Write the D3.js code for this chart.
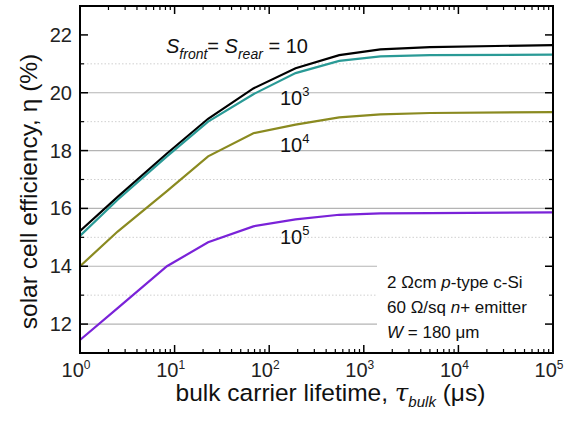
<!DOCTYPE html>
<html>
<head>
<meta charset="utf-8">
<script src="https://cdn.jsdelivr.net/npm/d3@7"></script>
<style>
  body { margin: 0; background: #fff; }
  text { font-family: "Liberation Sans", Arial, sans-serif; }
</style>
</head>
<body>
<script>
// lifetime points (us) where the curves were sampled
var tau = [1, 2.5, 8.3, 22.6, 68, 190, 550, 1500, 5000, 100000];

// efficiency (%) per surface recombination velocity
var effS10  = [15.22, 16.4, 17.9, 19.1, 20.15, 20.85, 21.3, 21.5, 21.58, 21.65];
var effS1e3 = [15.05, 16.3, 17.8, 19.0, 19.95, 20.68, 21.1, 21.26, 21.3, 21.32];
var effS1e4 = [14.0, 15.2, 16.6, 17.8, 18.6, 18.9, 19.15, 19.25, 19.3, 19.33];
var effS1e5 = [11.45, 12.55, 14.0, 14.83, 15.38, 15.62, 15.78, 15.83, 15.84, 15.86];

var yTicks = [12, 14, 16, 18, 20, 22];
var yMinor = [13, 15, 17, 19, 21];
var xDecades = [0, 1, 2, 3, 4, 5];

var series = [
  {vals: effS10,  color: "#000000"},
  {vals: effS1e3, color: "#2a9a96"},
  {vals: effS1e4, color: "#8a8a20"},
  {vals: effS1e5, color: "#7a22d8"}
];

var W = 568, H = 423;
var margin = {top: 6, right: 15, bottom: 70, left: 80},
  width = W - margin.left - margin.right,
  height = H - margin.top - margin.bottom;

var svg = d3.select("body").append("svg")
            .attr("width", W)
            .attr("height", H)
          .append("g")
            .attr("transform", "translate(" + margin.left + "," + margin.top + ")");

var xScale = d3.scaleLog().domain([1, 1e5]).range([0, width]);
var yScale = d3.scaleLinear().domain([11, 23]).range([height, 0]);

// grid: solid on even, dotted on odd
svg.selectAll(".gmaj").data(yTicks.filter(function(d) { return d < 22; })).enter()
  .append("line")
  .attr("x1", 0).attr("x2", width)
  .attr("y1", function(d) { return yScale(d); })
  .attr("y2", function(d) { return yScale(d); })
  .attr("stroke", "#b4b4b4").attr("stroke-width", 1.2);

svg.selectAll(".gmin").data(yMinor).enter()
  .append("line")
  .attr("x1", 0).attr("x2", width)
  .attr("y1", function(d) { return yScale(d); })
  .attr("y2", function(d) { return yScale(d); })
  .attr("stroke", "#d0d0d0").attr("stroke-width", 1)
  .attr("stroke-dasharray", "1.5,2");

// white box behind the note text
svg.append("rect")
  .attr("x", 297).attr("y", 252)
  .attr("width", width - 297).attr("height", height - 252)
  .attr("fill", "#fff");

var line = d3.line()
  .x(function(d, i) { return xScale(tau[i]); })
  .y(function(d) { return yScale(d); });

svg.selectAll(".curve").data(series).enter()
  .append("path")
  .attr("d", function(d) { return line(d.vals); })
  .attr("fill", "none")
  .attr("stroke", function(d) { return d.color; })
  .attr("stroke-width", 2.2);

// axes with inward ticks on all four sides
var minorX = [];
xDecades.slice(0, -1).forEach(function(e) {
  for (var k = 2; k < 10; k++) minorX.push(k * Math.pow(10, e));
});

function yAxis(g, right) {
  var s = right ? -1 : 1;
  var x0 = right ? width : 0;
  g.selectAll(".ym").data(yTicks).enter().append("line")
    .attr("x1", x0).attr("x2", x0 + s * 8)
    .attr("y1", function(d) { return yScale(d); }).attr("y2", function(d) { return yScale(d); })
    .attr("stroke", "#000").attr("stroke-width", 1.5);
  g.selectAll(".yn").data(yMinor).enter().append("line")
    .attr("x1", x0).attr("x2", x0 + s * 4)
    .attr("y1", function(d) { return yScale(d); }).attr("y2", function(d) { return yScale(d); })
    .attr("stroke", "#000").attr("stroke-width", 1.2);
}
function xAxis(g, top) {
  var s = top ? 1 : -1;
  var y0 = top ? 0 : height;
  g.selectAll(".xm").data(xDecades).enter().append("line")
    .attr("y1", y0).attr("y2", y0 + s * 8)
    .attr("x1", function(d) { return xScale(Math.pow(10, d)); })
    .attr("x2", function(d) { return xScale(Math.pow(10, d)); })
    .attr("stroke", "#000").attr("stroke-width", 1.5);
  g.selectAll(".xn").data(minorX).enter().append("line")
    .attr("y1", y0).attr("y2", y0 + s * 4)
    .attr("x1", function(d) { return xScale(d); })
    .attr("x2", function(d) { return xScale(d); })
    .attr("stroke", "#000").attr("stroke-width", 1.2);
}
yAxis(svg.append("g"), false);
yAxis(svg.append("g"), true);
xAxis(svg.append("g"), false);
xAxis(svg.append("g"), true);

svg.append("rect")
  .attr("x", 0).attr("y", 0).attr("width", width).attr("height", height)
  .attr("fill", "none").attr("stroke", "#000").attr("stroke-width", 2);

// tick labels
svg.selectAll(".ylab").data(yTicks).enter().append("text")
  .attr("x", -8).attr("y", function(d) { return yScale(d) + 7; })
  .attr("text-anchor", "end").attr("font-size", 20).attr("fill", "#222")
  .text(function(d) { return d; });

var xl = svg.selectAll(".xlab").data(xDecades).enter().append("text")
  .attr("x", function(d) { return xScale(Math.pow(10, d)) - 4; })
  .attr("y", height + 24)
  .attr("text-anchor", "middle").attr("font-size", 20).attr("fill", "#222");
xl.append("tspan").text("10");
xl.append("tspan").attr("dy", -8).attr("font-size", 12).text(function(d) { return d; });

// axis titles
var xt = svg.append("text")
  .attr("x", width / 2 + 14).attr("y", height + 48)
  .attr("text-anchor", "middle").attr("font-size", 24.5).attr("fill", "#111");
xt.append("tspan").text("bulk carrier lifetime, ");
xt.append("tspan").attr("font-family", "DejaVu Serif").attr("font-style", "italic").text("\u03c4");
xt.append("tspan").attr("dy", 6).attr("font-size", 15).attr("font-style", "italic").text("bulk");
xt.append("tspan").attr("dy", -6).text(" (\u03bcs)");

svg.append("text")
  .attr("transform", "translate(-43," + (height / 2 + 12) + ") rotate(-90)")
  .attr("text-anchor", "middle").attr("font-size", 24.5).attr("fill", "#111")
  .text("solar cell efficiency, \u03b7 (%)");

// curve labels
var s0 = svg.append("text").attr("x", 86).attr("y", 47).attr("font-size", 20).attr("fill", "#111");
s0.append("tspan").attr("font-style", "italic").text("S");
s0.append("tspan").attr("dy", 6).attr("font-size", 14).attr("font-style", "italic").text("front");
s0.append("tspan").attr("dy", -6).text("= ");
s0.append("tspan").attr("font-style", "italic").text("S");
s0.append("tspan").attr("dy", 6).attr("font-size", 14).attr("font-style", "italic").text("rear");
s0.append("tspan").attr("dy", -6).text(" = 10");

var powLabels = [
  {p: 3, y: 99},
  {p: 4, y: 146},
  {p: 5, y: 238}
];
var pl = svg.selectAll(".plab").data(powLabels).enter().append("text")
  .attr("x", 200).attr("y", function(d) { return d.y; })
  .attr("font-size", 20).attr("fill", "#111");
pl.append("tspan").text("10");
pl.append("tspan").attr("dy", -9).attr("font-size", 13).text(function(d) { return d.p; });

// note box text
var note = svg.append("g").attr("font-size", 17).attr("fill", "#111");
var n1 = note.append("text").attr("x", 307).attr("y", 282);
n1.append("tspan").text("2 \u03a9cm ");
n1.append("tspan").attr("font-style", "italic").text("p");
n1.append("tspan").text("-type c-Si");
var n2 = note.append("text").attr("x", 307).attr("y", 307);
n2.append("tspan").text("60 \u03a9/sq ");
n2.append("tspan").attr("font-style", "italic").text("n");
n2.append("tspan").text("+ emitter");
var n3 = note.append("text").attr("x", 307).attr("y", 332);
n3.append("tspan").attr("font-style", "italic").text("W");
n3.append("tspan").text(" = 180 \u03bcm");
</script>
</body>
</html>
